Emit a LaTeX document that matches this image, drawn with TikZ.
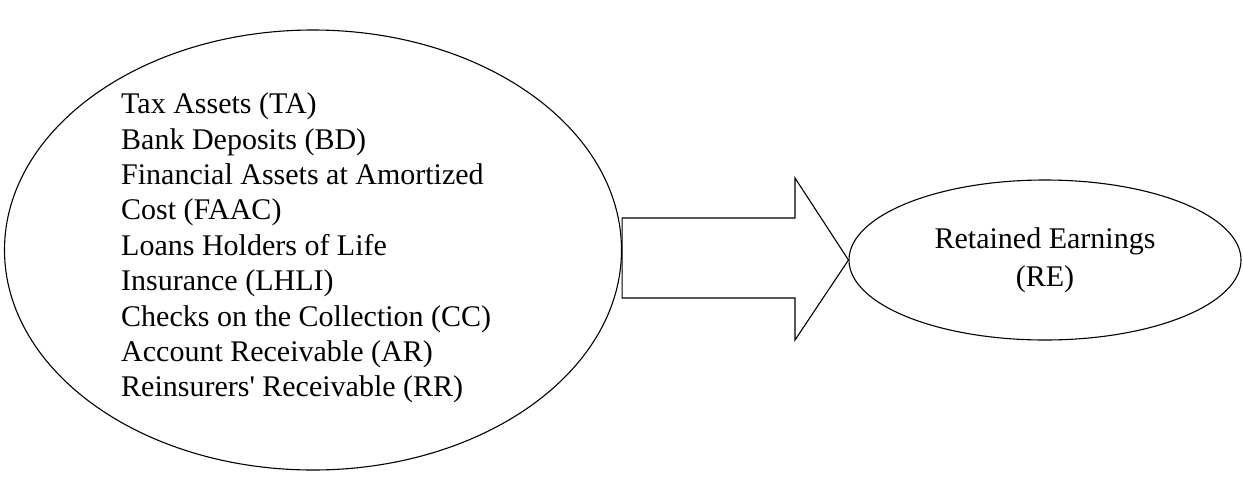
\documentclass[tikz,border=0pt]{standalone}
\usepackage{fontspec}
\setmainfont{Liberation Serif}
\usetikzlibrary{positioning,calc,shapes.geometric}
\tikzset{
  oval/.style={draw,ellipse,line width=1.1pt,inner sep=0pt},
  lista/.style={align=left,inner sep=0pt,font=\fontsize{30}{35.4}\selectfont},
  cimke/.style={align=center,inner sep=0pt,font=\fontsize{30}{38}\selectfont},
  nagynyil/.style={draw,line width=1.1pt,line join=miter},
}

\begin{document}
\begin{tikzpicture}[x=1pt,y=-1pt]
  \useasboundingbox (0,0) rectangle (1243,483);
  \node[oval,minimum width=617pt,minimum height=440pt] (assets) at (313,250) {};
  \node[lista,anchor=west] (assetlist) at (121,248) {Tax Assets (TA)\\ Bank Deposits (BD)\\
    Financial Assets at Amortized\\ Cost (FAAC)\\ Loans Holders of Life\\
    Insurance (LHLI)\\ Checks on the Collection (CC)\\ Account Receivable (AR)\\
    Reinsurers\textquotesingle\ Receivable (RR)};
  \node[oval,minimum width=392pt,minimum height=160pt] (re) at (1045,260) {};
  \node[cimke] (relabel) at (re.center) {Retained Earnings\\ (RE)};
  % the big arrow between the two ovals
  \coordinate (tail) at (assets.east);
  \coordinate (tip) at (re.west);
  \draw[nagynyil] ($(tail)+(0,-32)$) -- (795,218) -- (795,178) -- (tip) -- (795,340)
    -- (795,298) -- ($(tail)+(0,48)$) -- cycle;
\end{tikzpicture}
\end{document}
